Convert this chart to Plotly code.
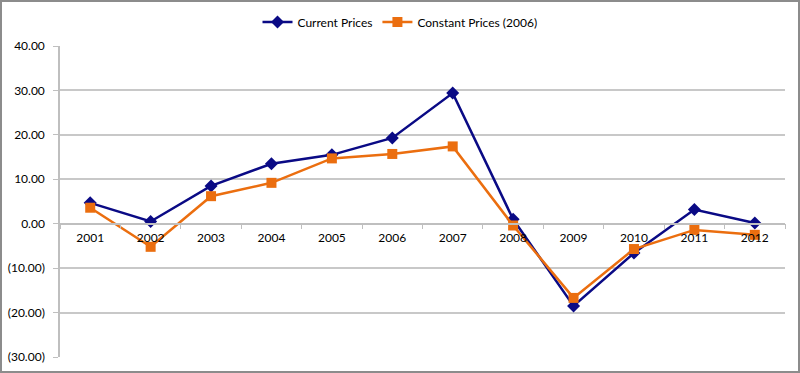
import plotly.graph_objects as go

years = ["2001", "2002", "2003", "2004", "2005", "2006", "2007", "2008", "2009", "2010", "2011", "2012"]
current_prices = [4.7, 0.5, 8.5, 13.5, 15.5, 19.3, 29.4, 1.0, -18.5, -6.6, 3.2, 0.15]
constant_prices = [3.6, -5.2, 6.2, 9.2, 14.7, 15.7, 17.4, -0.4, -16.7, -5.7, -1.4, -2.5]
y_tick_vals = [40, 30, 20, 10, 0, -10, -20, -30]
y_tick_text = ["40.00", "30.00", "20.00", "10.00", "0.00", "(10.00)", "(20.00)", "(30.00)"]

FONT = "Lato, 'Noto Sans', sans-serif"
W, H = 800, 373
ml, mr, mt, mb = 60, 15, 46, 16
pw, ph = W - ml - mr, H - mt - mb

fig = go.Figure()
fig.add_trace(go.Scatter(
    x=years, y=current_prices, name="Current Prices", mode="lines+markers",
    line=dict(color="#0A0A85", width=2.5),
    marker=dict(symbol="diamond", size=10, color="#0A0A85"),
))
fig.add_trace(go.Scatter(
    x=years, y=constant_prices, name="Constant Prices (2006)", mode="lines+markers",
    line=dict(color="#EB6E0F", width=2.5),
    marker=dict(symbol="square", size=10, color="#EB6E0F"),
))

ymin, ymax = -30, 40
fig.update_layout(
    width=W, height=H,
    margin=dict(l=ml, r=mr, t=mt, b=mb, autoexpand=False),
    paper_bgcolor="white", plot_bgcolor="white",
    font=dict(family=FONT, size=12, color="#000000"),
    showlegend=True,
    legend=dict(orientation="h", x=0.5, xanchor="center", xref="container",
                y=1 - 22 / H, yanchor="middle", yref="container",
                font=dict(size=12, family=FONT), itemwidth=30, bgcolor="rgba(0,0,0,0)"),
    xaxis=dict(type="category", anchor="free", position=(0 - ymin) / (ymax - ymin),
               showline=True, linecolor="#BFBFBF", linewidth=1.5,
               ticks="outside", ticklen=5, tickcolor="#BFBFBF", tickson="boundaries",
               ticklabelstandoff=3,
               showgrid=False, tickfont=dict(size=12), range=[-0.5, 11.5], fixedrange=True,
               automargin=False),
    yaxis=dict(range=[ymin, ymax], tickvals=y_tick_vals, ticktext=y_tick_text,
               showgrid=True, gridcolor="#C8C8C8", gridwidth=1.5, zeroline=False,
               showline=True, linecolor="#BFBFBF", linewidth=1.5,
               ticks="outside", ticklen=5, tickcolor="#BFBFBF", ticklabelstandoff=6,
               tickfont=dict(size=12), fixedrange=True, automargin=False),
    shapes=[dict(type="rect", xref="paper", yref="paper",
                 x0=-(ml - 1) / pw, x1=1 + (mr - 1) / pw,
                 y0=-(mb - 1) / ph, y1=1 + (mt - 1) / ph,
                 line=dict(color="#8C8C8C", width=2), layer="above")],
)
fig.write_html("out.html", config={"displayModeBar": False},
               post_script="document.body.style.margin='0';document.body.style.overflow='hidden';")
